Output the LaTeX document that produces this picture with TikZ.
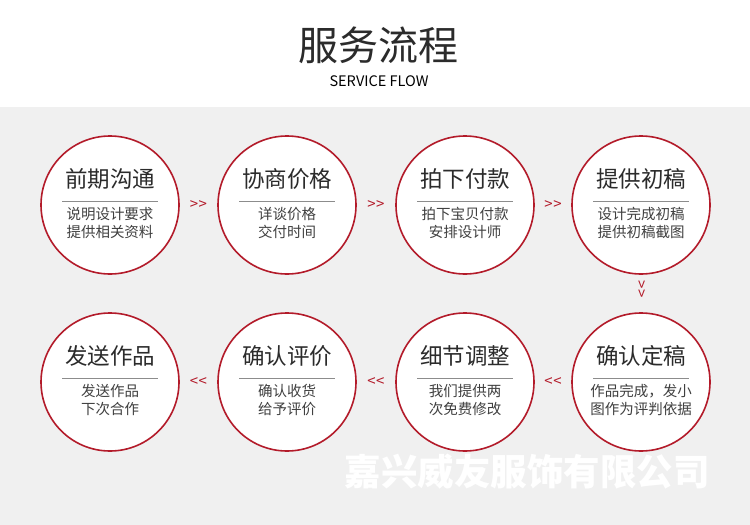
\documentclass[tikz,border=0pt]{standalone}
\usepackage{fontspec}
\setmainfont{Noto Sans CJK SC}
\usetikzlibrary{positioning,calc}
\definecolor{flowred}{HTML}{B31B2A}
\definecolor{flowgray}{HTML}{F0F0F0}
\definecolor{flowtext}{HTML}{2B2B2B}

\begin{document}
\begin{tikzpicture}[x=1pt,y=-1pt]
\tikzstyle{stage}=[circle,draw=flowred,line width=1.6pt,fill=white,minimum size=138pt,inner sep=0pt]
\tikzstyle{ttl}=[font=\fontsize{22.5}{22.5}\selectfont,text=flowtext,inner sep=0pt]
\tikzstyle{sub}=[font=\fontsize{14.5}{18}\selectfont,text=flowtext!90,align=center,inner sep=0pt]
\tikzstyle{sep}=[draw=black!45,line width=0.6pt]
\tikzstyle{go}=[font=\fontsize{15}{15}\selectfont,text=flowred,inner sep=0pt]
% page and grey band
\useasboundingbox (0,0) rectangle (750,525);
\fill[white] (0,0) rectangle (750,107);
\fill[flowgray] (0,107) rectangle (750,525);
% heading
\node[font=\fontsize{40}{40}\selectfont,text=flowtext,inner sep=0pt] (head) at (378,45) {服务流程};
\node[font=\fontsize{14.5}{14.5}\selectfont,text=black,inner sep=0pt] (headen) at (379,81) {SERVICE FLOW};
% watermark
\node[font=\fontsize{36.5}{36.5}\selectfont\bfseries,text=white,inner sep=0pt] (mark) at (527,472) {嘉兴威友服饰有限公司};
% first row
\node[stage] (s1) at (110,205) {};
\node[stage] (s2) at (287,205) {};
\node[stage] (s3) at (465,205) {};
\node[stage] (s4) at (641,205) {};
% second row
\node[stage] (s5) at (641,382) {};
\node[stage] (s6) at (465,382) {};
\node[stage] (s7) at (287,382) {};
\node[stage] (s8) at (110,382) {};
% titles
\node[ttl] (t1) at ($(s1)+(0,-26)$) {前期沟通};
\node[ttl] (t2) at ($(s2)+(0,-26)$) {协商价格};
\node[ttl] (t3) at ($(s3)+(0,-26)$) {拍下付款};
\node[ttl] (t4) at ($(s4)+(0,-26)$) {提供初稿};
\node[ttl] (t5) at ($(s5)+(0,-26)$) {确认定稿};
\node[ttl] (t6) at ($(s6)+(0,-26)$) {细节调整};
\node[ttl] (t7) at ($(s7)+(0,-26)$) {确认评价};
\node[ttl] (t8) at ($(s8)+(0,-26)$) {发送作品};
% rules under titles
\draw[sep] ($(s1)+(-48,-4)$) -- ($(s1)+(48,-4)$);
\draw[sep] ($(s2)+(-48,-4)$) -- ($(s2)+(48,-4)$);
\draw[sep] ($(s3)+(-48,-4)$) -- ($(s3)+(48,-4)$);
\draw[sep] ($(s4)+(-48,-4)$) -- ($(s4)+(48,-4)$);
\draw[sep] ($(s5)+(-48,-4)$) -- ($(s5)+(48,-4)$);
\draw[sep] ($(s6)+(-48,-4)$) -- ($(s6)+(48,-4)$);
\draw[sep] ($(s7)+(-48,-4)$) -- ($(s7)+(48,-4)$);
\draw[sep] ($(s8)+(-48,-4)$) -- ($(s8)+(48,-4)$);
% descriptions
\node[sub] (d1) at ($(s1)+(0,18)$) {说明设计要求\\提供相关资料};
\node[sub] (d2) at ($(s2)+(0,18)$) {详谈价格\\交付时间};
\node[sub] (d3) at ($(s3)+(0,18)$) {拍下宝贝付款\\安排设计师};
\node[sub] (d4) at ($(s4)+(0,18)$) {设计完成初稿\\提供初稿截图};
\node[sub] (d5) at ($(s5)+(0,18)$) {作品完成，发小\\图作为评判依据};
\node[sub] (d6) at ($(s6)+(0,18)$) {我们提供两\\次免费修改};
\node[sub] (d7) at ($(s7)+(0,18)$) {确认收货\\给予评价};
\node[sub] (d8) at ($(s8)+(0,18)$) {发送作品\\下次合作};
% step marks between circles
\node[go] (g12) at ($(s1)!0.5!(s2)$) {>\kern0.5pt>};
\node[go] (g23) at ($(s2)!0.5!(s3)$) {>\kern0.5pt>};
\node[go] (g34) at ($(s3)!0.5!(s4)$) {>\kern0.5pt>};
\node[go,rotate=-90] (g45) at ($(s4)!0.5!(s5)+(0,-4)$) {>\kern0.5pt>};
\node[go] (g56) at ($(s5)!0.5!(s6)$) {<\kern0.5pt<};
\node[go] (g67) at ($(s6)!0.5!(s7)$) {<\kern0.5pt<};
\node[go] (g78) at ($(s7)!0.5!(s8)$) {<\kern0.5pt<};
\end{tikzpicture}
\end{document}
